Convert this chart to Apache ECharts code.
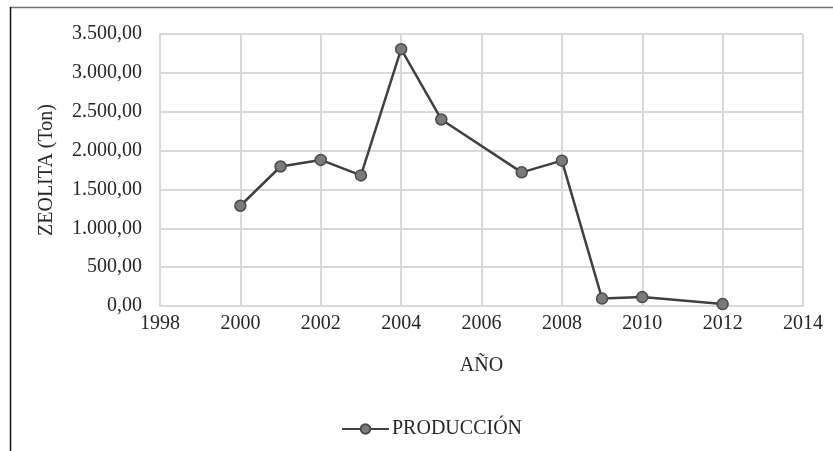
<!DOCTYPE html>
<html>
<head>
<meta charset="utf-8">
<script src="https://cdn.jsdelivr.net/npm/echarts@6/dist/echarts.min.js"></script>
<style>
  html, body { margin: 0; padding: 0; background: #fff; }
  #chart { width: 833px; height: 451px; }
</style>
</head>
<body>
<div id="chart"></div>
<script>
// Zeolite production by year (tonnes)
const years = [2000, 2001, 2002, 2003, 2004, 2005, 2007, 2008, 2009, 2010, 2012];
const production = [1290, 1795, 1880, 1680, 3305, 2400, 1720, 1870, 95, 115, 25];
const seriesName = 'PRODUCCIÓN';
const xAxisName = 'AÑO';
const yAxisName = 'ZEOLITA (Ton)';

const serif = '"Liberation Serif", "DejaVu Serif", serif';
const textColor = '#262626';
const gridColor = '#d9d9d9';

// Spanish number style: dot thousands, comma decimals
function fmtEs(v) {
  const parts = v.toFixed(2).split('.');
  parts[0] = parts[0].replace(/\B(?=(\d{3})+(?!\d))/g, '.');
  return parts.join(',');
}

const chart = echarts.init(document.getElementById('chart'), null, { renderer: 'canvas' });
chart.setOption({
  backgroundColor: '#fff',
  animation: false,
  grid: { left: 160, right: 30, top: 34, bottom: 145, containLabel: false },
  legend: {
    data: [seriesName],
    left: 336,
    top: 414,
    itemWidth: 47,
    itemHeight: 12,
    itemGap: 4,
    textStyle: { fontFamily: serif, fontSize: 20, color: textColor, padding: [0, 0, 0, -2] }
  },
  xAxis: {
    type: 'value',
    min: 1998, max: 2014, interval: 2,
    name: xAxisName,
    nameLocation: 'middle',
    nameGap: 50,
    nameTextStyle: { fontFamily: serif, fontSize: 20, color: textColor },
    axisLine: { show: true, lineStyle: { color: gridColor, width: 2 } },
    axisTick: { show: false },
    splitLine: { show: true, lineStyle: { color: gridColor, width: 2 } },
    axisLabel: { fontFamily: serif, fontSize: 20, color: textColor, margin: 8, formatter: v => String(v) }
  },
  yAxis: {
    type: 'value',
    min: 0, max: 3500, interval: 500,
    name: yAxisName,
    nameLocation: 'middle',
    nameGap: 103,
    nameTextStyle: { fontFamily: serif, fontSize: 20, color: textColor },
    axisLine: { show: true, lineStyle: { color: gridColor, width: 2 } },
    axisTick: { show: false },
    splitLine: { show: true, lineStyle: { color: gridColor, width: 2 } },
    axisLabel: { fontFamily: serif, fontSize: 20, color: textColor, margin: 18, formatter: fmtEs }
  },
  series: [{
    name: seriesName,
    type: 'line',
    data: years.map((y, i) => [y, production[i]]),
    symbol: 'circle',
    symbolSize: 11,
    lineStyle: { color: '#404040', width: 2.5 },
    itemStyle: { color: '#7a7a7a', borderColor: '#4a4a4a', borderWidth: 1.5 }
  }],
  graphic: [
    { type: 'line', shape: { x1: 10, y1: 7.5, x2: 833, y2: 7.5 }, style: { stroke: '#6e6e6e', lineWidth: 1.5 } },
    { type: 'line', shape: { x1: 10.5, y1: 7, x2: 10.5, y2: 451 }, style: { stroke: '#111', lineWidth: 1.5 } }
  ]
});
</script>
</body>
</html>
